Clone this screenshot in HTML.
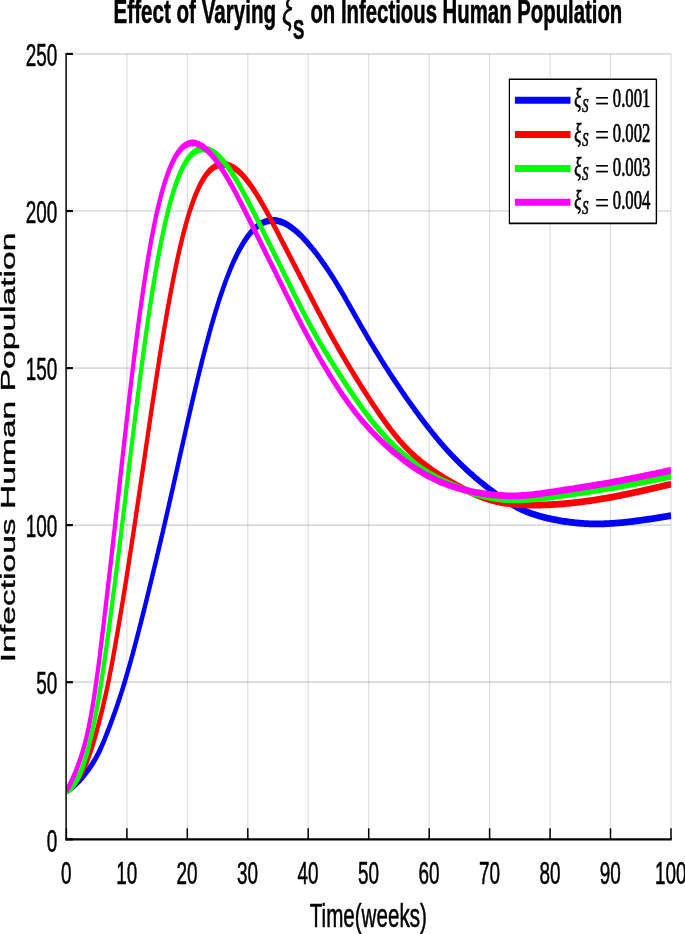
<!DOCTYPE html>
<html><head><meta charset="utf-8"><title>Effect of Varying xi_S</title>
<style>html,body{margin:0;padding:0;background:#fff}svg{display:block}text{font-family:"Liberation Sans",sans-serif;fill:#000;stroke:#000;stroke-width:0.35px;stroke-linejoin:round}.tk{font-size:18.9px}.ser{font-family:"Liberation Serif",serif;stroke-width:0.45px}</style></head><body>
<svg width="685" height="934" viewBox="0 0 685 934">
<rect width="685" height="934" fill="#fff"/>
<defs><clipPath id="c"><rect x="66.4" y="33.69" width="605.4" height="490.87"/></clipPath></defs>
<g stroke="#000" stroke-opacity="0.145"><line x1="126.9" y1="53.9" x2="126.9" y2="839.3" stroke-width="1.1"/><line x1="187.3" y1="53.9" x2="187.3" y2="839.3" stroke-width="1.1"/><line x1="247.8" y1="53.9" x2="247.8" y2="839.3" stroke-width="1.1"/><line x1="308.2" y1="53.9" x2="308.2" y2="839.3" stroke-width="1.1"/><line x1="368.7" y1="53.9" x2="368.7" y2="839.3" stroke-width="1.1"/><line x1="429.2" y1="53.9" x2="429.2" y2="839.3" stroke-width="1.1"/><line x1="489.6" y1="53.9" x2="489.6" y2="839.3" stroke-width="1.1"/><line x1="550.1" y1="53.9" x2="550.1" y2="839.3" stroke-width="1.1"/><line x1="610.5" y1="53.9" x2="610.5" y2="839.3" stroke-width="1.1"/><line x1="671.0" y1="53.9" x2="671.0" y2="839.3" stroke-width="1.1"/><line x1="66.4" y1="682.2" x2="671.0" y2="682.2" stroke-width="1.7"/><line x1="66.4" y1="525.1" x2="671.0" y2="525.1" stroke-width="1.7"/><line x1="66.4" y1="368.1" x2="671.0" y2="368.1" stroke-width="1.7"/><line x1="66.4" y1="211.0" x2="671.0" y2="211.0" stroke-width="1.7"/><line x1="66.4" y1="53.9" x2="671.0" y2="53.9" stroke-width="1.7"/></g>
<g transform="scale(1,1.6)" clip-path="url(#c)" fill="none" stroke-width="4.25" stroke-linejoin="round">
<path stroke="#0000ff" d="M66.40,494.31 L67.91,493.78 L69.42,493.18 L70.93,492.52 L72.45,491.81 L73.96,491.04 L75.47,490.21 L76.98,489.33 L78.49,488.39 L80.00,487.40 L81.52,486.36 L83.03,485.27 L84.54,484.13 L86.05,482.94 L87.56,481.70 L89.07,480.41 L90.58,479.06 L92.10,477.64 L93.61,476.14 L95.12,474.55 L96.63,472.87 L98.14,471.07 L99.65,469.15 L101.16,467.10 L102.68,464.94 L104.19,462.67 L105.70,460.32 L107.21,457.91 L108.72,455.45 L110.23,452.95 L111.75,450.42 L113.26,447.85 L114.77,445.23 L116.28,442.56 L117.79,439.81 L119.30,436.98 L120.81,434.07 L122.33,431.08 L123.84,428.01 L125.35,424.88 L126.86,421.67 L128.37,418.40 L129.88,415.06 L131.39,411.66 L132.91,408.19 L134.42,404.66 L135.93,401.08 L137.44,397.46 L138.95,393.79 L140.46,390.08 L141.98,386.34 L143.49,382.57 L145.00,378.77 L146.51,374.95 L148.02,371.10 L149.53,367.24 L151.04,363.35 L152.56,359.44 L154.07,355.51 L155.58,351.56 L157.09,347.59 L158.60,343.59 L160.11,339.57 L161.62,335.53 L163.14,331.47 L164.65,327.38 L166.16,323.27 L167.67,319.13 L169.18,314.97 L170.69,310.78 L172.21,306.59 L173.72,302.37 L175.23,298.15 L176.74,293.93 L178.25,289.70 L179.76,285.48 L181.27,281.26 L182.79,277.05 L184.30,272.86 L185.81,268.68 L187.32,264.52 L188.83,260.38 L190.34,256.27 L191.85,252.18 L193.37,248.12 L194.88,244.10 L196.39,240.13 L197.90,236.19 L199.41,232.31 L200.92,228.48 L202.44,224.70 L203.95,220.99 L205.46,217.34 L206.97,213.75 L208.48,210.24 L209.99,206.79 L211.50,203.42 L213.02,200.13 L214.53,196.92 L216.04,193.78 L217.55,190.72 L219.06,187.75 L220.57,184.85 L222.08,182.05 L223.60,179.32 L225.11,176.68 L226.62,174.13 L228.13,171.67 L229.64,169.30 L231.15,167.01 L232.66,164.81 L234.18,162.71 L235.69,160.69 L237.20,158.76 L238.71,156.92 L240.22,155.17 L241.73,153.50 L243.25,151.92 L244.76,150.43 L246.27,149.02 L247.78,147.70 L249.29,146.47 L250.80,145.33 L252.31,144.28 L253.83,143.31 L255.34,142.43 L256.85,141.62 L258.36,140.90 L259.87,140.26 L261.38,139.70 L262.89,139.21 L264.41,138.79 L265.92,138.45 L267.43,138.17 L268.94,137.97 L270.45,137.83 L271.96,137.76 L273.48,137.76 L274.99,137.82 L276.50,137.94 L278.01,138.12 L279.52,138.36 L281.03,138.65 L282.54,139.01 L284.06,139.42 L285.57,139.88 L287.08,140.39 L288.59,140.96 L290.10,141.58 L291.61,142.24 L293.12,142.95 L294.64,143.71 L296.15,144.51 L297.66,145.36 L299.17,146.24 L300.68,147.16 L302.19,148.12 L303.71,149.11 L305.22,150.13 L306.73,151.19 L308.24,152.27 L309.75,153.38 L311.26,154.51 L312.77,155.67 L314.29,156.86 L315.80,158.07 L317.31,159.31 L318.82,160.57 L320.33,161.86 L321.84,163.17 L323.36,164.50 L324.87,165.86 L326.38,167.24 L327.89,168.65 L329.40,170.08 L330.91,171.53 L332.42,173.00 L333.94,174.50 L335.45,176.02 L336.96,177.56 L338.47,179.12 L339.98,180.71 L341.49,182.31 L343.00,183.93 L344.52,185.56 L346.03,187.21 L347.54,188.87 L349.05,190.53 L350.56,192.20 L352.07,193.87 L353.59,195.55 L355.10,197.22 L356.61,198.89 L358.12,200.56 L359.63,202.21 L361.14,203.86 L362.65,205.50 L364.17,207.13 L365.68,208.76 L367.19,210.37 L368.70,211.97 L370.21,213.57 L371.72,215.15 L373.23,216.72 L374.75,218.29 L376.26,219.84 L377.77,221.39 L379.28,222.92 L380.79,224.44 L382.30,225.96 L383.82,227.46 L385.33,228.95 L386.84,230.43 L388.35,231.90 L389.86,233.36 L391.37,234.81 L392.88,236.25 L394.40,237.68 L395.91,239.10 L397.42,240.51 L398.93,241.91 L400.44,243.30 L401.95,244.68 L403.46,246.05 L404.98,247.41 L406.49,248.76 L408.00,250.11 L409.51,251.44 L411.02,252.77 L412.53,254.08 L414.04,255.39 L415.56,256.69 L417.07,257.97 L418.58,259.25 L420.09,260.52 L421.60,261.79 L423.11,263.04 L424.63,264.28 L426.14,265.51 L427.65,266.73 L429.16,267.94 L430.67,269.14 L432.18,270.33 L433.69,271.50 L435.21,272.67 L436.72,273.82 L438.23,274.95 L439.74,276.07 L441.25,277.18 L442.76,278.27 L444.27,279.35 L445.79,280.42 L447.30,281.47 L448.81,282.51 L450.32,283.53 L451.83,284.54 L453.34,285.53 L454.86,286.51 L456.37,287.48 L457.88,288.43 L459.39,289.37 L460.90,290.30 L462.41,291.21 L463.92,292.11 L465.44,292.99 L466.95,293.87 L468.46,294.73 L469.97,295.58 L471.48,296.42 L472.99,297.25 L474.50,298.07 L476.02,298.87 L477.53,299.67 L479.04,300.46 L480.55,301.24 L482.06,302.01 L483.57,302.76 L485.09,303.52 L486.60,304.26 L488.11,304.99 L489.62,305.72 L491.13,306.44 L492.64,307.15 L494.15,307.85 L495.67,308.55 L497.18,309.23 L498.69,309.90 L500.20,310.57 L501.71,311.22 L503.22,311.86 L504.74,312.48 L506.25,313.10 L507.76,313.70 L509.27,314.28 L510.78,314.85 L512.29,315.41 L513.80,315.95 L515.32,316.47 L516.83,316.98 L518.34,317.46 L519.85,317.93 L521.36,318.38 L522.87,318.82 L524.38,319.23 L525.90,319.63 L527.41,320.01 L528.92,320.37 L530.43,320.73 L531.94,321.06 L533.45,321.38 L534.97,321.69 L536.48,321.99 L537.99,322.27 L539.50,322.55 L541.01,322.81 L542.52,323.06 L544.03,323.30 L545.55,323.54 L547.06,323.76 L548.57,323.98 L550.08,324.19 L551.59,324.39 L553.10,324.59 L554.61,324.78 L556.13,324.97 L557.64,325.15 L559.15,325.32 L560.66,325.48 L562.17,325.64 L563.68,325.80 L565.20,325.94 L566.71,326.08 L568.22,326.21 L569.73,326.34 L571.24,326.46 L572.75,326.57 L574.26,326.68 L575.78,326.78 L577.29,326.87 L578.80,326.95 L580.31,327.03 L581.82,327.10 L583.33,327.17 L584.84,327.23 L586.36,327.28 L587.87,327.32 L589.38,327.36 L590.89,327.39 L592.40,327.41 L593.91,327.43 L595.42,327.44 L596.94,327.44 L598.45,327.44 L599.96,327.43 L601.47,327.41 L602.98,327.39 L604.49,327.35 L606.01,327.32 L607.52,327.28 L609.03,327.23 L610.54,327.17 L612.05,327.11 L613.56,327.05 L615.07,326.98 L616.59,326.91 L618.10,326.83 L619.61,326.75 L621.12,326.67 L622.63,326.58 L624.14,326.48 L625.65,326.38 L627.17,326.28 L628.68,326.18 L630.19,326.07 L631.70,325.96 L633.21,325.84 L634.72,325.72 L636.24,325.60 L637.75,325.47 L639.26,325.35 L640.77,325.22 L642.28,325.09 L643.79,324.95 L645.30,324.81 L646.82,324.67 L648.33,324.53 L649.84,324.39 L651.35,324.25 L652.86,324.10 L654.37,323.95 L655.88,323.80 L657.40,323.65 L658.91,323.50 L660.42,323.35 L661.93,323.19 L663.44,323.04 L664.95,322.89 L666.47,322.73 L667.98,322.57 L669.49,322.42 L671.00,322.26"/>
<path stroke="#ff0000" d="M66.40,494.27 L67.91,493.76 L69.42,493.09 L70.93,492.29 L72.45,491.36 L73.96,490.31 L75.47,489.14 L76.98,487.86 L78.49,486.46 L80.00,484.92 L81.52,483.23 L83.03,481.39 L84.54,479.38 L86.05,477.21 L87.56,474.87 L89.07,472.36 L90.58,469.68 L92.10,466.81 L93.61,463.75 L95.12,460.51 L96.63,457.11 L98.14,453.58 L99.65,449.94 L101.16,446.18 L102.68,442.31 L104.19,438.29 L105.70,434.10 L107.21,429.72 L108.72,425.15 L110.23,420.37 L111.75,415.40 L113.26,410.26 L114.77,404.98 L116.28,399.58 L117.79,394.10 L119.30,388.55 L120.81,382.92 L122.33,377.21 L123.84,371.42 L125.35,365.54 L126.86,359.58 L128.37,353.54 L129.88,347.44 L131.39,341.28 L132.91,335.06 L134.42,328.79 L135.93,322.47 L137.44,316.11 L138.95,309.72 L140.46,303.29 L141.98,296.86 L143.49,290.41 L145.00,283.95 L146.51,277.51 L148.02,271.08 L149.53,264.68 L151.04,258.31 L152.56,251.98 L154.07,245.71 L155.58,239.50 L157.09,233.36 L158.60,227.31 L160.11,221.35 L161.62,215.49 L163.14,209.74 L164.65,204.10 L166.16,198.59 L167.67,193.21 L169.18,187.96 L170.69,182.85 L172.21,177.89 L173.72,173.08 L175.23,168.42 L176.74,163.92 L178.25,159.58 L179.76,155.40 L181.27,151.38 L182.79,147.54 L184.30,143.85 L185.81,140.34 L187.32,137.00 L188.83,133.83 L190.34,130.82 L191.85,127.99 L193.37,125.33 L194.88,122.84 L196.39,120.51 L197.90,118.34 L199.41,116.34 L200.92,114.49 L202.44,112.79 L203.95,111.25 L205.46,109.85 L206.97,108.59 L208.48,107.47 L209.99,106.48 L211.50,105.62 L213.02,104.88 L214.53,104.26 L216.04,103.76 L217.55,103.36 L219.06,103.07 L220.57,102.88 L222.08,102.78 L223.60,102.77 L225.11,102.84 L226.62,103.01 L228.13,103.25 L229.64,103.58 L231.15,103.99 L232.66,104.48 L234.18,105.05 L235.69,105.69 L237.20,106.40 L238.71,107.20 L240.22,108.06 L241.73,108.99 L243.25,109.99 L244.76,111.05 L246.27,112.18 L247.78,113.38 L249.29,114.63 L250.80,115.93 L252.31,117.29 L253.83,118.71 L255.34,120.16 L256.85,121.67 L258.36,123.21 L259.87,124.79 L261.38,126.41 L262.89,128.06 L264.41,129.74 L265.92,131.45 L267.43,133.18 L268.94,134.93 L270.45,136.70 L271.96,138.48 L273.48,140.28 L274.99,142.09 L276.50,143.92 L278.01,145.75 L279.52,147.59 L281.03,149.44 L282.54,151.28 L284.06,153.13 L285.57,154.98 L287.08,156.82 L288.59,158.66 L290.10,160.50 L291.61,162.33 L293.12,164.16 L294.64,165.99 L296.15,167.82 L297.66,169.65 L299.17,171.48 L300.68,173.30 L302.19,175.13 L303.71,176.95 L305.22,178.78 L306.73,180.61 L308.24,182.44 L309.75,184.27 L311.26,186.10 L312.77,187.93 L314.29,189.76 L315.80,191.59 L317.31,193.41 L318.82,195.22 L320.33,197.03 L321.84,198.83 L323.36,200.62 L324.87,202.39 L326.38,204.16 L327.89,205.91 L329.40,207.64 L330.91,209.36 L332.42,211.06 L333.94,212.75 L335.45,214.43 L336.96,216.09 L338.47,217.74 L339.98,219.38 L341.49,221.01 L343.00,222.62 L344.52,224.22 L346.03,225.82 L347.54,227.40 L349.05,228.98 L350.56,230.54 L352.07,232.10 L353.59,233.65 L355.10,235.19 L356.61,236.72 L358.12,238.25 L359.63,239.76 L361.14,241.27 L362.65,242.76 L364.17,244.25 L365.68,245.73 L367.19,247.19 L368.70,248.65 L370.21,250.10 L371.72,251.54 L373.23,252.96 L374.75,254.38 L376.26,255.78 L377.77,257.17 L379.28,258.55 L380.79,259.91 L382.30,261.26 L383.82,262.59 L385.33,263.91 L386.84,265.21 L388.35,266.49 L389.86,267.76 L391.37,269.00 L392.88,270.22 L394.40,271.42 L395.91,272.60 L397.42,273.75 L398.93,274.87 L400.44,275.96 L401.95,277.03 L403.46,278.07 L404.98,279.09 L406.49,280.07 L408.00,281.04 L409.51,281.98 L411.02,282.90 L412.53,283.79 L414.04,284.67 L415.56,285.52 L417.07,286.35 L418.58,287.17 L420.09,287.96 L421.60,288.74 L423.11,289.50 L424.63,290.24 L426.14,290.97 L427.65,291.68 L429.16,292.38 L430.67,293.07 L432.18,293.74 L433.69,294.40 L435.21,295.04 L436.72,295.68 L438.23,296.30 L439.74,296.92 L441.25,297.52 L442.76,298.11 L444.27,298.69 L445.79,299.26 L447.30,299.83 L448.81,300.38 L450.32,300.93 L451.83,301.47 L453.34,302.00 L454.86,302.53 L456.37,303.05 L457.88,303.56 L459.39,304.07 L460.90,304.57 L462.41,305.07 L463.92,305.56 L465.44,306.04 L466.95,306.52 L468.46,306.99 L469.97,307.44 L471.48,307.89 L472.99,308.33 L474.50,308.76 L476.02,309.18 L477.53,309.58 L479.04,309.98 L480.55,310.36 L482.06,310.73 L483.57,311.08 L485.09,311.42 L486.60,311.74 L488.11,312.05 L489.62,312.34 L491.13,312.61 L492.64,312.87 L494.15,313.11 L495.67,313.34 L497.18,313.55 L498.69,313.75 L500.20,313.93 L501.71,314.10 L503.22,314.26 L504.74,314.41 L506.25,314.54 L507.76,314.67 L509.27,314.78 L510.78,314.89 L512.29,314.99 L513.80,315.07 L515.32,315.16 L516.83,315.23 L518.34,315.30 L519.85,315.36 L521.36,315.41 L522.87,315.46 L524.38,315.51 L525.90,315.55 L527.41,315.58 L528.92,315.61 L530.43,315.63 L531.94,315.65 L533.45,315.66 L534.97,315.66 L536.48,315.66 L537.99,315.66 L539.50,315.64 L541.01,315.63 L542.52,315.60 L544.03,315.58 L545.55,315.54 L547.06,315.51 L548.57,315.46 L550.08,315.42 L551.59,315.37 L553.10,315.32 L554.61,315.26 L556.13,315.20 L557.64,315.13 L559.15,315.07 L560.66,314.99 L562.17,314.92 L563.68,314.84 L565.20,314.76 L566.71,314.67 L568.22,314.58 L569.73,314.49 L571.24,314.39 L572.75,314.29 L574.26,314.19 L575.78,314.09 L577.29,313.98 L578.80,313.86 L580.31,313.75 L581.82,313.63 L583.33,313.51 L584.84,313.38 L586.36,313.26 L587.87,313.12 L589.38,312.99 L590.89,312.85 L592.40,312.72 L593.91,312.57 L595.42,312.43 L596.94,312.28 L598.45,312.13 L599.96,311.98 L601.47,311.82 L602.98,311.66 L604.49,311.50 L606.01,311.33 L607.52,311.17 L609.03,311.00 L610.54,310.83 L612.05,310.65 L613.56,310.48 L615.07,310.30 L616.59,310.12 L618.10,309.93 L619.61,309.75 L621.12,309.56 L622.63,309.37 L624.14,309.18 L625.65,308.99 L627.17,308.79 L628.68,308.59 L630.19,308.40 L631.70,308.20 L633.21,307.99 L634.72,307.79 L636.24,307.59 L637.75,307.38 L639.26,307.17 L640.77,306.96 L642.28,306.75 L643.79,306.54 L645.30,306.33 L646.82,306.11 L648.33,305.90 L649.84,305.69 L651.35,305.47 L652.86,305.25 L654.37,305.03 L655.88,304.82 L657.40,304.60 L658.91,304.38 L660.42,304.16 L661.93,303.94 L663.44,303.72 L664.95,303.49 L666.47,303.27 L667.98,303.05 L669.49,302.83 L671.00,302.61"/>
<path stroke="#00ff00" d="M66.40,494.17 L67.91,493.91 L69.42,493.37 L70.93,492.57 L72.45,491.54 L73.96,490.32 L75.47,488.93 L76.98,487.35 L78.49,485.56 L80.00,483.53 L81.52,481.23 L83.03,478.65 L84.54,475.78 L86.05,472.65 L87.56,469.25 L89.07,465.59 L90.58,461.68 L92.10,457.52 L93.61,453.11 L95.12,448.46 L96.63,443.54 L98.14,438.31 L99.65,432.76 L101.16,426.91 L102.68,420.75 L104.19,414.31 L105.70,407.62 L107.21,400.75 L108.72,393.74 L110.23,386.65 L111.75,379.47 L113.26,372.22 L114.77,364.90 L116.28,357.49 L117.79,349.99 L119.30,342.40 L120.81,334.72 L122.33,326.97 L123.84,319.18 L125.35,311.35 L126.86,303.50 L128.37,295.66 L129.88,287.83 L131.39,280.02 L132.91,272.26 L134.42,264.55 L135.93,256.92 L137.44,249.37 L138.95,241.93 L140.46,234.60 L141.98,227.39 L143.49,220.33 L145.00,213.42 L146.51,206.68 L148.02,200.11 L149.53,193.72 L151.04,187.52 L152.56,181.51 L154.07,175.70 L155.58,170.09 L157.09,164.69 L158.60,159.49 L160.11,154.51 L161.62,149.73 L163.14,145.17 L164.65,140.82 L166.16,136.68 L167.67,132.76 L169.18,129.04 L170.69,125.54 L172.21,122.24 L173.72,119.14 L175.23,116.25 L176.74,113.55 L178.25,111.04 L179.76,108.72 L181.27,106.59 L182.79,104.64 L184.30,102.87 L185.81,101.26 L187.32,99.82 L188.83,98.54 L190.34,97.40 L191.85,96.42 L193.37,95.58 L194.88,94.87 L196.39,94.28 L197.90,93.82 L199.41,93.48 L200.92,93.25 L202.44,93.12 L203.95,93.10 L205.46,93.18 L206.97,93.35 L208.48,93.62 L209.99,93.98 L211.50,94.43 L213.02,94.97 L214.53,95.60 L216.04,96.31 L217.55,97.10 L219.06,97.96 L220.57,98.90 L222.08,99.92 L223.60,101.00 L225.11,102.14 L226.62,103.35 L228.13,104.62 L229.64,105.95 L231.15,107.34 L232.66,108.77 L234.18,110.26 L235.69,111.80 L237.20,113.38 L238.71,115.01 L240.22,116.68 L241.73,118.38 L243.25,120.12 L244.76,121.89 L246.27,123.69 L247.78,125.51 L249.29,127.34 L250.80,129.19 L252.31,131.04 L253.83,132.91 L255.34,134.78 L256.85,136.65 L258.36,138.54 L259.87,140.42 L261.38,142.31 L262.89,144.21 L264.41,146.11 L265.92,148.01 L267.43,149.91 L268.94,151.82 L270.45,153.73 L271.96,155.64 L273.48,157.55 L274.99,159.46 L276.50,161.37 L278.01,163.28 L279.52,165.20 L281.03,167.12 L282.54,169.04 L284.06,170.96 L285.57,172.89 L287.08,174.81 L288.59,176.73 L290.10,178.65 L291.61,180.57 L293.12,182.47 L294.64,184.38 L296.15,186.27 L297.66,188.15 L299.17,190.03 L300.68,191.89 L302.19,193.75 L303.71,195.58 L305.22,197.41 L306.73,199.21 L308.24,201.00 L309.75,202.78 L311.26,204.53 L312.77,206.26 L314.29,207.97 L315.80,209.66 L317.31,211.33 L318.82,212.98 L320.33,214.61 L321.84,216.21 L323.36,217.80 L324.87,219.37 L326.38,220.93 L327.89,222.47 L329.40,224.00 L330.91,225.52 L332.42,227.02 L333.94,228.52 L335.45,230.01 L336.96,231.50 L338.47,232.98 L339.98,234.46 L341.49,235.93 L343.00,237.39 L344.52,238.85 L346.03,240.29 L347.54,241.73 L349.05,243.16 L350.56,244.58 L352.07,245.99 L353.59,247.38 L355.10,248.76 L356.61,250.13 L358.12,251.49 L359.63,252.83 L361.14,254.16 L362.65,255.47 L364.17,256.77 L365.68,258.04 L367.19,259.31 L368.70,260.55 L370.21,261.77 L371.72,262.97 L373.23,264.16 L374.75,265.32 L376.26,266.47 L377.77,267.60 L379.28,268.71 L380.79,269.80 L382.30,270.87 L383.82,271.92 L385.33,272.96 L386.84,273.98 L388.35,274.98 L389.86,275.96 L391.37,276.93 L392.88,277.88 L394.40,278.81 L395.91,279.73 L397.42,280.63 L398.93,281.51 L400.44,282.38 L401.95,283.23 L403.46,284.06 L404.98,284.88 L406.49,285.69 L408.00,286.47 L409.51,287.25 L411.02,288.00 L412.53,288.74 L414.04,289.47 L415.56,290.18 L417.07,290.87 L418.58,291.55 L420.09,292.22 L421.60,292.87 L423.11,293.50 L424.63,294.12 L426.14,294.73 L427.65,295.32 L429.16,295.89 L430.67,296.45 L432.18,297.00 L433.69,297.53 L435.21,298.05 L436.72,298.56 L438.23,299.05 L439.74,299.54 L441.25,300.01 L442.76,300.47 L444.27,300.92 L445.79,301.36 L447.30,301.79 L448.81,302.22 L450.32,302.63 L451.83,303.04 L453.34,303.43 L454.86,303.82 L456.37,304.21 L457.88,304.59 L459.39,304.96 L460.90,305.32 L462.41,305.68 L463.92,306.04 L465.44,306.39 L466.95,306.73 L468.46,307.06 L469.97,307.39 L471.48,307.70 L472.99,308.01 L474.50,308.31 L476.02,308.61 L477.53,308.89 L479.04,309.16 L480.55,309.43 L482.06,309.68 L483.57,309.92 L485.09,310.16 L486.60,310.38 L488.11,310.59 L489.62,310.78 L491.13,310.97 L492.64,311.14 L494.15,311.30 L495.67,311.45 L497.18,311.59 L498.69,311.72 L500.20,311.83 L501.71,311.94 L503.22,312.03 L504.74,312.11 L506.25,312.18 L507.76,312.24 L509.27,312.29 L510.78,312.33 L512.29,312.36 L513.80,312.38 L515.32,312.39 L516.83,312.39 L518.34,312.38 L519.85,312.36 L521.36,312.33 L522.87,312.30 L524.38,312.25 L525.90,312.20 L527.41,312.13 L528.92,312.07 L530.43,311.99 L531.94,311.91 L533.45,311.82 L534.97,311.73 L536.48,311.63 L537.99,311.52 L539.50,311.42 L541.01,311.31 L542.52,311.19 L544.03,311.07 L545.55,310.95 L547.06,310.83 L548.57,310.71 L550.08,310.59 L551.59,310.46 L553.10,310.34 L554.61,310.21 L556.13,310.08 L557.64,309.95 L559.15,309.83 L560.66,309.70 L562.17,309.57 L563.68,309.44 L565.20,309.31 L566.71,309.18 L568.22,309.04 L569.73,308.91 L571.24,308.78 L572.75,308.64 L574.26,308.50 L575.78,308.37 L577.29,308.23 L578.80,308.09 L580.31,307.95 L581.82,307.81 L583.33,307.67 L584.84,307.53 L586.36,307.38 L587.87,307.24 L589.38,307.09 L590.89,306.94 L592.40,306.80 L593.91,306.65 L595.42,306.50 L596.94,306.35 L598.45,306.19 L599.96,306.04 L601.47,305.88 L602.98,305.73 L604.49,305.57 L606.01,305.41 L607.52,305.25 L609.03,305.09 L610.54,304.93 L612.05,304.77 L613.56,304.60 L615.07,304.43 L616.59,304.27 L618.10,304.10 L619.61,303.93 L621.12,303.76 L622.63,303.58 L624.14,303.41 L625.65,303.24 L627.17,303.06 L628.68,302.88 L630.19,302.71 L631.70,302.53 L633.21,302.35 L634.72,302.17 L636.24,301.99 L637.75,301.81 L639.26,301.63 L640.77,301.44 L642.28,301.26 L643.79,301.08 L645.30,300.89 L646.82,300.71 L648.33,300.52 L649.84,300.33 L651.35,300.15 L652.86,299.96 L654.37,299.77 L655.88,299.58 L657.40,299.40 L658.91,299.21 L660.42,299.02 L661.93,298.83 L663.44,298.64 L664.95,298.45 L666.47,298.26 L667.98,298.07 L669.49,297.88 L671.00,297.69"/>
<path stroke="#ff00ff" d="M66.40,494.16 L67.91,492.65 L69.42,490.93 L70.93,489.04 L72.45,487.02 L73.96,484.85 L75.47,482.57 L76.98,480.15 L78.49,477.60 L80.00,474.90 L81.52,472.01 L83.03,468.90 L84.54,465.52 L86.05,461.82 L87.56,457.76 L89.07,453.31 L90.58,448.47 L92.10,443.21 L93.61,437.49 L95.12,431.33 L96.63,424.74 L98.14,417.76 L99.65,410.43 L101.16,402.83 L102.68,395.02 L104.19,387.08 L105.70,379.03 L107.21,370.92 L108.72,362.75 L110.23,354.53 L111.75,346.26 L113.26,337.93 L114.77,329.54 L116.28,321.10 L117.79,312.61 L119.30,304.11 L120.81,295.61 L122.33,287.13 L123.84,278.69 L125.35,270.30 L126.86,261.98 L128.37,253.75 L129.88,245.61 L131.39,237.61 L132.91,229.75 L134.42,222.04 L135.93,214.51 L137.44,207.17 L138.95,200.02 L140.46,193.08 L141.98,186.35 L143.49,179.85 L145.00,173.59 L146.51,167.55 L148.02,161.76 L149.53,156.22 L151.04,150.92 L152.56,145.87 L154.07,141.08 L155.58,136.53 L157.09,132.23 L158.60,128.18 L160.11,124.36 L161.62,120.78 L163.14,117.43 L164.65,114.30 L166.16,111.38 L167.67,108.68 L169.18,106.18 L170.69,103.88 L172.21,101.77 L173.72,99.85 L175.23,98.12 L176.74,96.56 L178.25,95.17 L179.76,93.94 L181.27,92.88 L182.79,91.97 L184.30,91.20 L185.81,90.58 L187.32,90.09 L188.83,89.73 L190.34,89.49 L191.85,89.37 L193.37,89.37 L194.88,89.47 L196.39,89.68 L197.90,89.99 L199.41,90.40 L200.92,90.90 L202.44,91.49 L203.95,92.17 L205.46,92.93 L206.97,93.77 L208.48,94.68 L209.99,95.66 L211.50,96.72 L213.02,97.84 L214.53,99.02 L216.04,100.26 L217.55,101.57 L219.06,102.92 L220.57,104.33 L222.08,105.79 L223.60,107.29 L225.11,108.83 L226.62,110.41 L228.13,112.03 L229.64,113.67 L231.15,115.35 L232.66,117.06 L234.18,118.80 L235.69,120.56 L237.20,122.35 L238.71,124.16 L240.22,125.99 L241.73,127.83 L243.25,129.69 L244.76,131.57 L246.27,133.45 L247.78,135.35 L249.29,137.25 L250.80,139.15 L252.31,141.06 L253.83,142.98 L255.34,144.90 L256.85,146.81 L258.36,148.73 L259.87,150.65 L261.38,152.57 L262.89,154.48 L264.41,156.39 L265.92,158.30 L267.43,160.20 L268.94,162.09 L270.45,163.99 L271.96,165.88 L273.48,167.78 L274.99,169.67 L276.50,171.57 L278.01,173.47 L279.52,175.37 L281.03,177.28 L282.54,179.19 L284.06,181.10 L285.57,183.01 L287.08,184.92 L288.59,186.83 L290.10,188.74 L291.61,190.64 L293.12,192.54 L294.64,194.43 L296.15,196.31 L297.66,198.18 L299.17,200.04 L300.68,201.89 L302.19,203.73 L303.71,205.55 L305.22,207.36 L306.73,209.15 L308.24,210.92 L309.75,212.68 L311.26,214.42 L312.77,216.15 L314.29,217.86 L315.80,219.55 L317.31,221.22 L318.82,222.88 L320.33,224.52 L321.84,226.15 L323.36,227.75 L324.87,229.34 L326.38,230.91 L327.89,232.47 L329.40,234.01 L330.91,235.54 L332.42,237.05 L333.94,238.54 L335.45,240.01 L336.96,241.47 L338.47,242.91 L339.98,244.33 L341.49,245.73 L343.00,247.12 L344.52,248.48 L346.03,249.83 L347.54,251.15 L349.05,252.46 L350.56,253.75 L352.07,255.02 L353.59,256.27 L355.10,257.49 L356.61,258.70 L358.12,259.89 L359.63,261.05 L361.14,262.19 L362.65,263.32 L364.17,264.42 L365.68,265.50 L367.19,266.56 L368.70,267.61 L370.21,268.63 L371.72,269.65 L373.23,270.64 L374.75,271.62 L376.26,272.58 L377.77,273.53 L379.28,274.47 L380.79,275.38 L382.30,276.29 L383.82,277.18 L385.33,278.05 L386.84,278.91 L388.35,279.76 L389.86,280.59 L391.37,281.41 L392.88,282.22 L394.40,283.02 L395.91,283.80 L397.42,284.57 L398.93,285.33 L400.44,286.07 L401.95,286.81 L403.46,287.53 L404.98,288.24 L406.49,288.94 L408.00,289.62 L409.51,290.29 L411.02,290.95 L412.53,291.60 L414.04,292.24 L415.56,292.86 L417.07,293.47 L418.58,294.06 L420.09,294.65 L421.60,295.22 L423.11,295.77 L424.63,296.32 L426.14,296.85 L427.65,297.36 L429.16,297.86 L430.67,298.35 L432.18,298.83 L433.69,299.29 L435.21,299.74 L436.72,300.17 L438.23,300.59 L439.74,301.00 L441.25,301.40 L442.76,301.79 L444.27,302.16 L445.79,302.53 L447.30,302.88 L448.81,303.22 L450.32,303.55 L451.83,303.87 L453.34,304.18 L454.86,304.48 L456.37,304.77 L457.88,305.05 L459.39,305.32 L460.90,305.59 L462.41,305.84 L463.92,306.09 L465.44,306.32 L466.95,306.55 L468.46,306.77 L469.97,306.98 L471.48,307.19 L472.99,307.38 L474.50,307.57 L476.02,307.75 L477.53,307.92 L479.04,308.08 L480.55,308.24 L482.06,308.39 L483.57,308.53 L485.09,308.67 L486.60,308.80 L488.11,308.92 L489.62,309.03 L491.13,309.14 L492.64,309.24 L494.15,309.34 L495.67,309.42 L497.18,309.50 L498.69,309.58 L500.20,309.64 L501.71,309.70 L503.22,309.75 L504.74,309.80 L506.25,309.83 L507.76,309.86 L509.27,309.88 L510.78,309.89 L512.29,309.90 L513.80,309.90 L515.32,309.88 L516.83,309.86 L518.34,309.84 L519.85,309.80 L521.36,309.75 L522.87,309.69 L524.38,309.63 L525.90,309.56 L527.41,309.48 L528.92,309.39 L530.43,309.29 L531.94,309.19 L533.45,309.08 L534.97,308.97 L536.48,308.85 L537.99,308.73 L539.50,308.61 L541.01,308.48 L542.52,308.34 L544.03,308.21 L545.55,308.07 L547.06,307.93 L548.57,307.79 L550.08,307.65 L551.59,307.51 L553.10,307.37 L554.61,307.23 L556.13,307.09 L557.64,306.95 L559.15,306.81 L560.66,306.67 L562.17,306.52 L563.68,306.38 L565.20,306.24 L566.71,306.09 L568.22,305.95 L569.73,305.81 L571.24,305.66 L572.75,305.52 L574.26,305.37 L575.78,305.22 L577.29,305.07 L578.80,304.93 L580.31,304.78 L581.82,304.63 L583.33,304.48 L584.84,304.32 L586.36,304.17 L587.87,304.02 L589.38,303.86 L590.89,303.71 L592.40,303.55 L593.91,303.40 L595.42,303.24 L596.94,303.08 L598.45,302.92 L599.96,302.75 L601.47,302.59 L602.98,302.43 L604.49,302.26 L606.01,302.09 L607.52,301.93 L609.03,301.76 L610.54,301.59 L612.05,301.41 L613.56,301.24 L615.07,301.07 L616.59,300.89 L618.10,300.71 L619.61,300.53 L621.12,300.35 L622.63,300.17 L624.14,299.99 L625.65,299.80 L627.17,299.62 L628.68,299.43 L630.19,299.25 L631.70,299.06 L633.21,298.87 L634.72,298.68 L636.24,298.49 L637.75,298.30 L639.26,298.11 L640.77,297.92 L642.28,297.72 L643.79,297.53 L645.30,297.33 L646.82,297.14 L648.33,296.94 L649.84,296.75 L651.35,296.55 L652.86,296.35 L654.37,296.15 L655.88,295.96 L657.40,295.76 L658.91,295.56 L660.42,295.36 L661.93,295.16 L663.44,294.96 L664.95,294.76 L666.47,294.56 L667.98,294.36 L669.49,294.16 L671.00,293.96"/>
</g>
<g stroke="#000"><line x1="66.10000000000001" y1="52.9" x2="66.10000000000001" y2="840.4" stroke-width="1.5"/><line x1="65.7" y1="839.3" x2="671.7" y2="839.3" stroke-width="2.2"/><line x1="66.4" y1="839.3" x2="66.4" y2="828.3" stroke-width="1.5"/><line x1="126.9" y1="839.3" x2="126.9" y2="828.3" stroke-width="1.5"/><line x1="187.3" y1="839.3" x2="187.3" y2="828.3" stroke-width="1.5"/><line x1="247.8" y1="839.3" x2="247.8" y2="828.3" stroke-width="1.5"/><line x1="308.2" y1="839.3" x2="308.2" y2="828.3" stroke-width="1.5"/><line x1="368.7" y1="839.3" x2="368.7" y2="828.3" stroke-width="1.5"/><line x1="429.2" y1="839.3" x2="429.2" y2="828.3" stroke-width="1.5"/><line x1="489.6" y1="839.3" x2="489.6" y2="828.3" stroke-width="1.5"/><line x1="550.1" y1="839.3" x2="550.1" y2="828.3" stroke-width="1.5"/><line x1="610.5" y1="839.3" x2="610.5" y2="828.3" stroke-width="1.5"/><line x1="671.0" y1="839.3" x2="671.0" y2="828.3" stroke-width="1.5"/><line x1="66.4" y1="839.3" x2="72.9" y2="839.3" stroke-width="2.2"/><line x1="66.4" y1="682.2" x2="72.9" y2="682.2" stroke-width="2.2"/><line x1="66.4" y1="525.1" x2="72.9" y2="525.1" stroke-width="2.2"/><line x1="66.4" y1="368.1" x2="72.9" y2="368.1" stroke-width="2.2"/><line x1="66.4" y1="211.0" x2="72.9" y2="211.0" stroke-width="2.2"/><line x1="66.4" y1="53.9" x2="72.9" y2="53.9" stroke-width="2.2"/></g>
<text class="tk" text-anchor="middle" transform="translate(66.2,883.6) scale(1,1.63)">0</text>
<text class="tk" text-anchor="middle" transform="translate(126.7,883.6) scale(1,1.63)">10</text>
<text class="tk" text-anchor="middle" transform="translate(187.1,883.6) scale(1,1.63)">20</text>
<text class="tk" text-anchor="middle" transform="translate(247.6,883.6) scale(1,1.63)">30</text>
<text class="tk" text-anchor="middle" transform="translate(308.0,883.6) scale(1,1.63)">40</text>
<text class="tk" text-anchor="middle" transform="translate(368.5,883.6) scale(1,1.63)">50</text>
<text class="tk" text-anchor="middle" transform="translate(429.0,883.6) scale(1,1.63)">60</text>
<text class="tk" text-anchor="middle" transform="translate(489.4,883.6) scale(1,1.63)">70</text>
<text class="tk" text-anchor="middle" transform="translate(549.9,883.6) scale(1,1.63)">80</text>
<text class="tk" text-anchor="middle" transform="translate(610.3,883.6) scale(1,1.63)">90</text>
<text class="tk" text-anchor="middle" transform="translate(670.8,883.6) scale(1,1.63)">100</text>
<text class="tk" text-anchor="end" transform="translate(57.3,851.5) scale(1,1.63)">0</text>
<text class="tk" text-anchor="end" transform="translate(57.3,694.4) scale(1,1.63)">50</text>
<text class="tk" text-anchor="end" transform="translate(57.3,537.3) scale(1,1.63)">100</text>
<text class="tk" text-anchor="end" transform="translate(57.3,380.3) scale(1,1.63)">150</text>
<text class="tk" text-anchor="end" transform="translate(57.3,223.2) scale(1,1.63)">200</text>
<text class="tk" text-anchor="end" transform="translate(57.3,66.1) scale(1,1.63)">250</text>
<text text-anchor="middle" font-size="20.6" transform="translate(368.3,927.1) scale(1,1.6)">Time(weeks)</text>
<text text-anchor="middle" font-size="20.2" transform="translate(15.2,447.4) scale(1,1.664) rotate(-90)">Infectious Human Population</text>
<text font-weight="bold" font-size="20.6" transform="translate(113.6,23) scale(1,1.655)">Effect of Varying</text>
<text font-style="italic" font-size="24" transform="translate(282.3,23.5) scale(1,1.655)">ξ</text>
<text font-weight="bold" font-size="17" transform="translate(293,38.6) scale(1,1.655)">S</text>
<text font-weight="bold" font-size="20.35" text-anchor="end" transform="translate(622.3,23) scale(1,1.655)">on Infectious Human Population</text>
<rect x="509.4" y="79.2" width="146.9" height="144.2" fill="#fff" stroke="none"/>
<g stroke="#000"><line x1="508.9" y1="79.2" x2="656.8" y2="79.2" stroke-width="1.6"/><line x1="508.9" y1="223.4" x2="656.8" y2="223.4" stroke-width="1.6"/><line x1="509.4" y1="79.2" x2="509.4" y2="223.4" stroke-width="1.2"/><line x1="656.4" y1="79.2" x2="656.4" y2="223.4" stroke-width="1.4"/></g>
<line x1="514.9" y1="100.3" x2="570.5" y2="100.3" stroke="#0000ff" stroke-width="7"/>
<text class="ser" font-size="16.7" transform="translate(574.2,107.3) scale(1,1.6)"><tspan font-style="italic">ξ</tspan><tspan font-style="italic" font-size="12.4" dx="0.8" dy="3.0">S</tspan><tspan dy="-3.0" x="38.6">0.001</tspan></text>
<text class="ser" font-size="16.7" transform="translate(595.1,109.7) scale(1.5,1.6)" style="stroke-width:0.15px">=</text>
<line x1="514.9" y1="134.5" x2="570.5" y2="134.5" stroke="#ff0000" stroke-width="7"/>
<text class="ser" font-size="16.7" transform="translate(574.2,141.5) scale(1,1.6)"><tspan font-style="italic">ξ</tspan><tspan font-style="italic" font-size="12.4" dx="0.8" dy="3.0">S</tspan><tspan dy="-3.0" x="38.6">0.002</tspan></text>
<text class="ser" font-size="16.7" transform="translate(595.1,143.9) scale(1.5,1.6)" style="stroke-width:0.15px">=</text>
<line x1="514.9" y1="168.5" x2="570.5" y2="168.5" stroke="#00ff00" stroke-width="7"/>
<text class="ser" font-size="16.7" transform="translate(574.2,175.5) scale(1,1.6)"><tspan font-style="italic">ξ</tspan><tspan font-style="italic" font-size="12.4" dx="0.8" dy="3.0">S</tspan><tspan dy="-3.0" x="38.6">0.003</tspan></text>
<text class="ser" font-size="16.7" transform="translate(595.1,177.9) scale(1.5,1.6)" style="stroke-width:0.15px">=</text>
<line x1="514.9" y1="202.3" x2="570.5" y2="202.3" stroke="#ff00ff" stroke-width="7"/>
<text class="ser" font-size="16.7" transform="translate(574.2,209.3) scale(1,1.6)"><tspan font-style="italic">ξ</tspan><tspan font-style="italic" font-size="12.4" dx="0.8" dy="3.0">S</tspan><tspan dy="-3.0" x="38.6">0.004</tspan></text>
<text class="ser" font-size="16.7" transform="translate(595.1,211.7) scale(1.5,1.6)" style="stroke-width:0.15px">=</text>
</svg></body></html>
